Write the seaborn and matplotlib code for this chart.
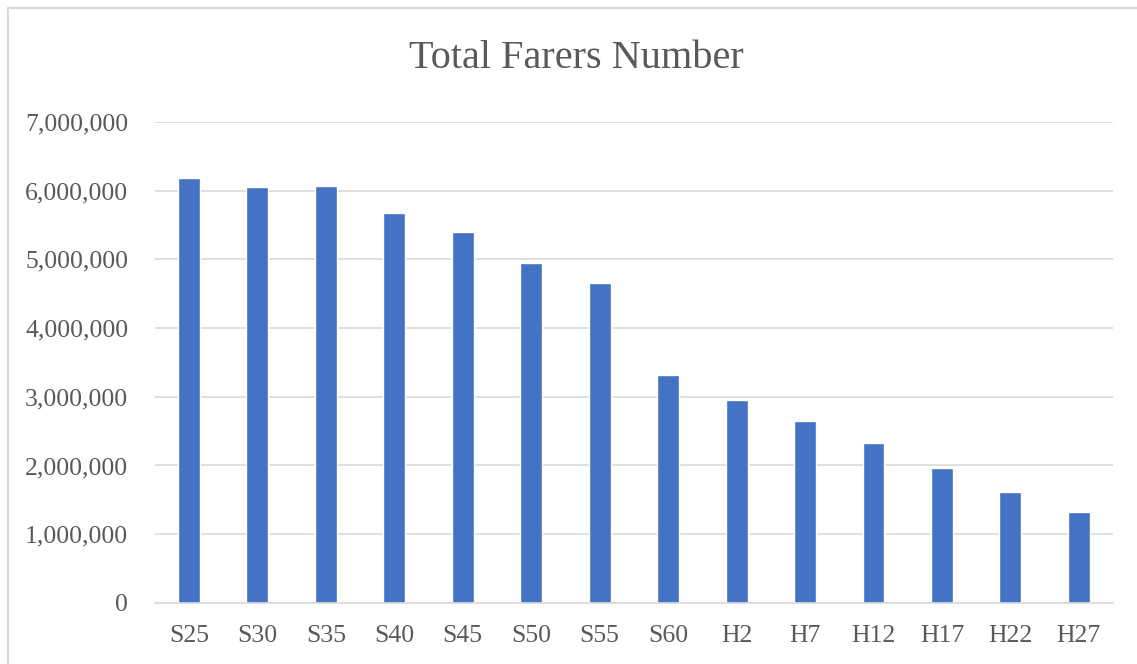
import matplotlib
matplotlib.use("Agg")
import matplotlib.pyplot as plt
import matplotlib.patches as patches
import seaborn as sns
import pandas as pd
from matplotlib.ticker import FuncFormatter

periods = ["S25", "S30", "S35", "S40", "S45", "S50", "S55", "S60",
           "H2", "H7", "H12", "H17", "H22", "H27"]
farers = [6180000, 6050000, 6070000, 5670000, 5400000, 4950000, 4650000,
          3310000, 2960000, 2645000, 2330000, 1960000, 1620000, 1330000]

df = pd.DataFrame({"period": periods, "farers": farers})

sns.set_style("white")
plt.rcParams["font.family"] = ["Liberation Serif", "DejaVu Serif"]

fig = plt.figure(figsize=(11.37, 6.64), dpi=100)
ax = fig.add_axes([0.136, 0.092, 0.843, 0.7244])

sns.barplot(data=df, x="period", y="farers", color="#4472C4", width=0.32,
            saturation=1, ax=ax)

ax.set_ylim(0, 7000000)
ax.set_yticks(range(0, 7000001, 1000000))
ax.yaxis.set_major_formatter(FuncFormatter(lambda v, p: f"{int(v):,}"))
ax.grid(axis="y", color="#d9d9d9", lw=1.2)
ax.set_axisbelow(True)
for s in ["top", "right", "left"]:
    ax.spines[s].set_visible(False)
ax.spines["bottom"].set_color("#d9d9d9")
ax.spines["bottom"].set_linewidth(1.2)
ax.tick_params(length=0, labelsize=18.5, colors="#595959")
ax.tick_params(axis="y", pad=19)
ax.tick_params(axis="x", pad=16)
ax.set_xlabel("")
ax.set_ylabel("")
ax.set_xlim(-0.5, len(periods) - 0.5)

fig.text(0.507, 0.912, "Total Farers Number", ha="center", va="center",
         fontsize=29, color="#595959")

border = patches.Rectangle((8 / 1137, -0.05), 1.1, 1 - 8 / 664 + 0.05,
                           transform=fig.transFigure, fill=False,
                           edgecolor="#d9d9d9", lw=1.5)
fig.patches.append(border)

fig.savefig("out.png", dpi=100)
